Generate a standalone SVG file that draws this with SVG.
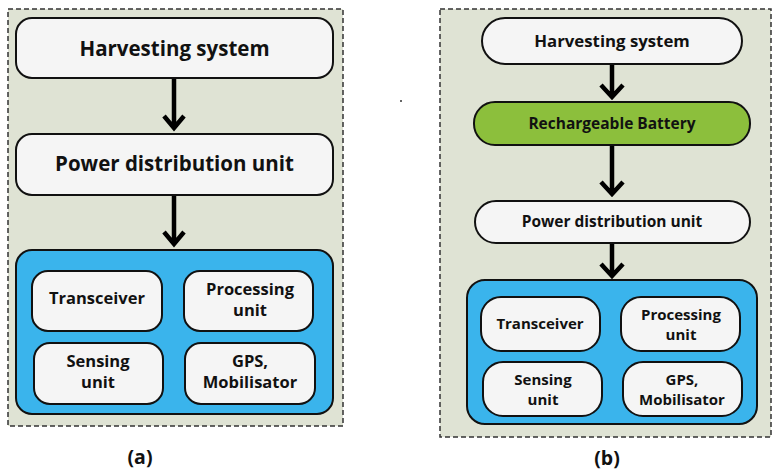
<svg xmlns="http://www.w3.org/2000/svg" width="773" height="472" viewBox="0 0 773 472">
<style>
.panel{fill:#dfe3d4;stroke:#333;stroke-width:1.5;stroke-dasharray:5 3}
.box{fill:#f5f5f5;stroke:#111;stroke-width:2}
.green{fill:#8cbf3c;stroke:#111;stroke-width:2}
.blue{fill:#3ab4ec;stroke:#111;stroke-width:2}
text{font-family:"Open Sans","DejaVu Sans",sans-serif;font-weight:700;fill:#111;text-anchor:middle}
.arr{fill:none;stroke:#000;stroke-width:4.5;stroke-linejoin:miter}
</style>
<rect class="panel" x="8" y="9" width="335" height="417"/>
<rect class="panel" x="440" y="9" width="331" height="428"/>
<circle cx="401" cy="101" r="1" fill="#333"/>
<g id="connectors">
<path class="arr" d="M174 78V129M164 116L174 128L184 116"/>
<path class="arr" d="M174 195V245M164 232L174 244L184 232"/>
<path class="arr" d="M612 64V97M601 85L612 97L623 85"/>
<path class="arr" d="M612 145V194M601 182L612 194L623 182"/>
<path class="arr" d="M612 243V276M601 264L612 276L623 264"/>
</g>
<g id="a-harvest"><rect class="box" x="16" y="18" width="317" height="60" rx="16"/><text x="174.5" y="56" font-size="20.5">Harvesting system</text></g>
<g id="a-pdu"><rect class="box" x="16" y="134" width="317" height="61" rx="16"/><text x="174.5" y="171" font-size="20.5">Power distribution unit</text></g>
<g id="a-group"><rect class="blue" x="16" y="250" width="317" height="164" rx="16"/></g>
<g id="a-trx"><rect class="box" x="32" y="271" width="130" height="60" rx="16"/><text x="97" y="304" font-size="16.5">Transceiver</text></g>
<g id="a-proc"><rect class="box" x="184" y="271" width="129" height="60" rx="16"/><text x="250" y="295" font-size="16.5">Processing</text><text x="250" y="316" font-size="16.5">unit</text></g>
<g id="a-sense"><rect class="box" x="34" y="343" width="129" height="61" rx="16"/><text x="98" y="367" font-size="16.5">Sensing</text><text x="98" y="388" font-size="16.5">unit</text></g>
<g id="a-gps"><rect class="box" x="185" y="343" width="130" height="61" rx="16"/><text x="250" y="367" font-size="16.5">GPS,</text><text x="250" y="388" font-size="16.5">Mobilisator</text></g>
<text x="140" y="464" font-size="19.5">(a)</text>
<g id="b-harvest"><rect class="box" x="482" y="18" width="260" height="46" rx="23"/><text x="612" y="47" font-size="16.8">Harvesting system</text></g>
<g id="b-batt"><rect class="green" x="474" y="102" width="276" height="43" rx="21"/><text x="612" y="129" font-size="15.5">Rechargeable Battery</text></g>
<g id="b-pdu"><rect class="box" x="475" y="201" width="275" height="42" rx="21"/><text x="612" y="227" font-size="15.5">Power distribution unit</text></g>
<g id="b-group"><rect class="blue" x="467" y="280" width="290" height="144" rx="18"/></g>
<g id="b-trx"><rect class="box" x="481" y="297" width="119" height="54" rx="20"/><text x="540" y="329" font-size="15">Transceiver</text></g>
<g id="b-proc"><rect class="box" x="621" y="297" width="119" height="54" rx="20"/><text x="681" y="320" font-size="15">Processing</text><text x="681" y="340" font-size="15">unit</text></g>
<g id="b-sense"><rect class="box" x="483" y="362" width="119" height="54" rx="20"/><text x="543" y="385" font-size="15">Sensing</text><text x="543" y="405" font-size="15">unit</text></g>
<g id="b-gps"><rect class="box" x="623" y="362" width="119" height="54" rx="20"/><text x="682" y="385" font-size="15">GPS,</text><text x="682" y="405" font-size="15">Mobilisator</text></g>
<text x="607" y="465" font-size="19.5">(b)</text>
</svg>
